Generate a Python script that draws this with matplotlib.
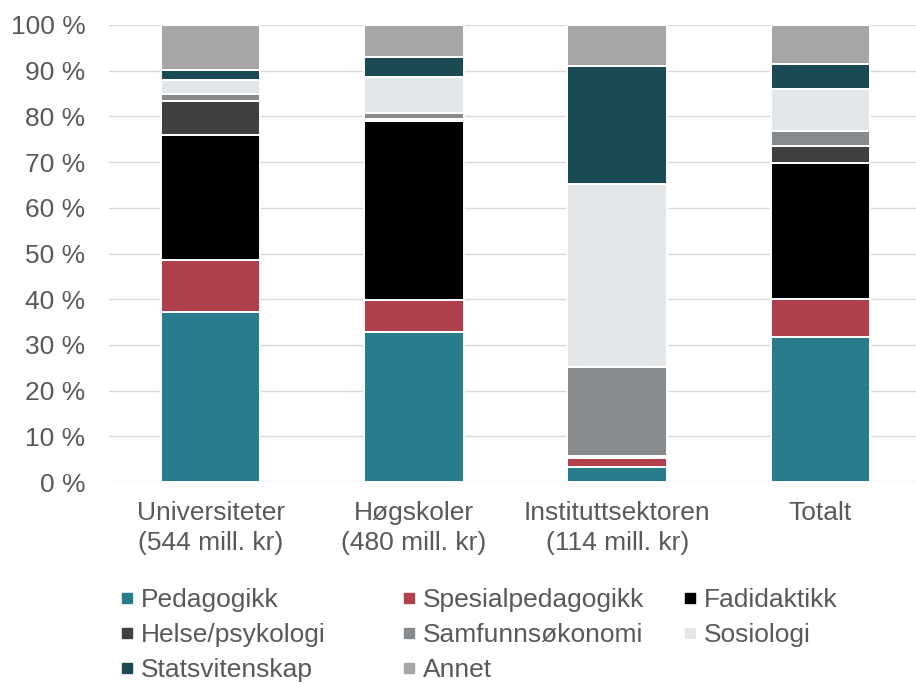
import numpy as np
import matplotlib.pyplot as plt
from matplotlib.lines import Line2D

plt.rcParams['font.family'] = ['Liberation Sans', 'DejaVu Sans']

# data (share in %)
categories = ['Universiteter\n(544 mill. kr)', 'Høgskoler\n(480 mill. kr)',
              'Instituttsektoren\n(114 mill. kr)', 'Totalt']
series_names = ['Pedagogikk', 'Spesialpedagogikk', 'Fadidaktikk', 'Helse/psykologi',
                'Samfunnsøkonomi', 'Sosiologi', 'Statsvitenskap', 'Annet']
pedagogikk = [37.3, 32.9, 3.3, 31.8]
spesialped = [11.2, 6.9, 1.9, 8.3]
fadidaktikk = [27.4, 39.1, 0.2, 29.7]
helse_psyk = [7.5, 0.6, 0.3, 3.7]
samfunnsok = [1.4, 1.3, 19.4, 3.3]
sosiologi = [3.1, 7.9, 40.2, 9.2]
statsvit = [2.2, 4.2, 25.8, 5.5]
annet = [9.9, 7.1, 8.9, 8.5]
yticks = [0, 10, 20, 30, 40, 50, 60, 70, 80, 90, 100]

series = [pedagogikk, spesialped, fadidaktikk, helse_psyk,
          samfunnsok, sosiologi, statsvit, annet]
colors = ['#287C8C', '#B0404C', '#000000', '#404040',
          '#878B8E', '#E3E7EA', '#1A4A54', '#A6A6A6']
txt = '#595959'
fs = 19

fig = plt.figure(figsize=(9.16, 6.84), dpi=100)
ax = fig.add_axes([109/916, 1 - 482/684, 1 - 109/916, (482 - 25)/684])

x = np.arange(len(categories))
bottom = np.zeros(len(categories))
for vals, c in zip(series, colors):
    ax.bar(x, vals, 0.49, bottom=bottom, color=c, edgecolor='white',
           linewidth=1.4, zorder=3)
    bottom += np.array(vals)

ax.set_xlim(-0.5, 3.47)
ax.set_ylim(0, 100)
ax.set_yticks(yticks)
ax.set_yticklabels([f'{v} %' for v in yticks])
ax.set_xticks(x)
ax.set_xticklabels(categories, linespacing=1.3)
ax.tick_params(axis='y', length=0, pad=17, labelsize=fs, labelcolor=txt)
ax.tick_params(axis='x', length=0, pad=14, labelsize=fs, labelcolor=txt)
ax.grid(axis='y', color='#D9D9D9', linewidth=1.0, zorder=0)
for s in ax.spines.values():
    s.set_visible(False)

# legend: three fixed-width columns, filled row by row
handles = [Line2D([], [], marker='s', linestyle='', color=c, markersize=7.5)
           for c in colors]
col_x = [120/916, 402/916, 683/916]
for j in range(3):
    idx = [i for i in range(len(series_names)) if i % 3 == j]
    fig.legend([handles[i] for i in idx], [series_names[i] for i in idx],
               loc='upper left', bbox_to_anchor=(col_x[j], 1 - 588/684),
               frameon=False, fontsize=fs, labelcolor=txt, handlelength=0.5,
               handletextpad=0.3, labelspacing=0.42, borderaxespad=0,
               borderpad=0)

fig.savefig('out.png', dpi=100)
